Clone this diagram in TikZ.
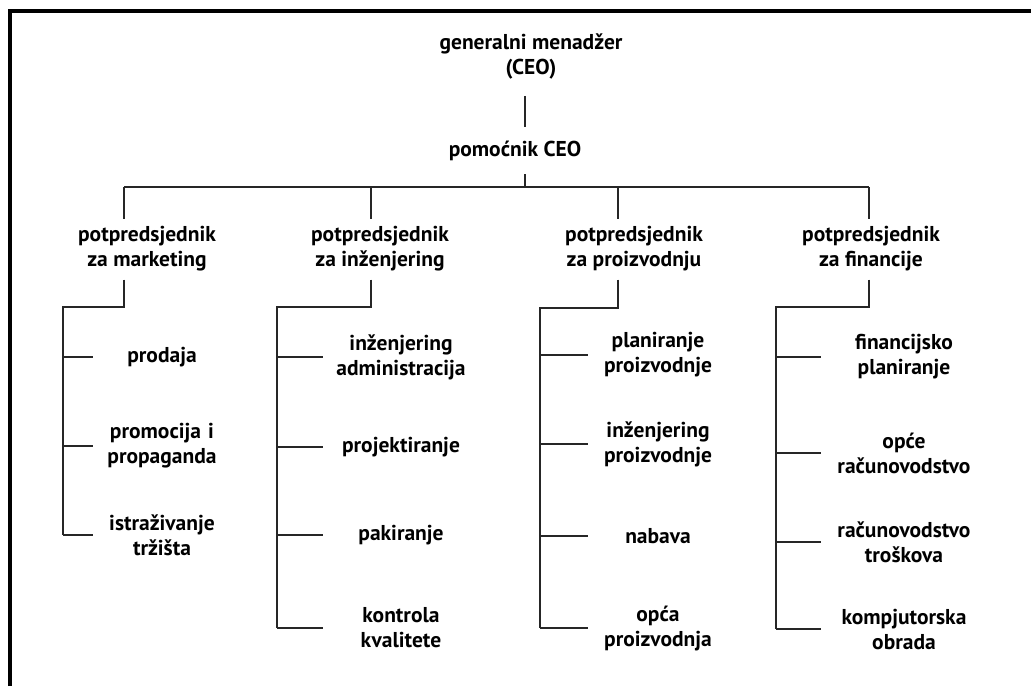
\documentclass[tikz,border=0pt]{standalone}
\usepackage{fontspec}
\setmainfont{PT Sans}

\tikzset{
  link/.style={line width=1.3pt, black!85},
  title/.style={font=\bfseries\fontsize{21.5}{25}\selectfont, align=center, inner sep=0pt},
  dept/.style={title, text width=#1}
}

\begin{document}
\begin{tikzpicture}[x=1pt,y=-1pt]
\useasboundingbox (0,0) rectangle (1031,686);
\draw[line width=4pt] (10,686) -- (10,11) -- (1031,11);

% top of the chart
\node[title] (ceo) at (531,56) {generalni menadžer\\(CEO)};
\node[title] (pom) at (515,151) {pomoćnik CEO};
\coordinate (bus) at (525,187);
\draw[link, shorten <=17pt, shorten >=14pt] (ceo.south -| bus) -- (pom.north -| bus);
\draw[link, shorten <=13pt] (pom.south -| bus) -- (bus);

% vice presidents
\node[title] (vp1) at (147,249) {potpredsjednik\\za marketing};
\node[title] (vp2) at (380,249) {potpredsjednik\\za inženjering};
\node[title] (vp3) at (634,249) {potpredsjednik\\za proizvodnju};
\node[title] (vp4) at (871,249) {potpredsjednik\\za financije};
\coordinate (b1) at (124,187);
\coordinate (b2) at (371,187);
\coordinate (b3) at (618,187);
\coordinate (b4) at (869,187);
\draw[link] (b1) -- (b4);
\draw[link, shorten >=7pt] (b1) -- (vp1.north -| b1);
\draw[link, shorten >=7pt] (b2) -- (vp2.north -| b2);
\draw[link, shorten >=7pt] (b3) -- (vp3.north -| b3);
\draw[link, shorten >=7pt] (b4) -- (vp4.north -| b4);

% marketing
\node[dept=138pt] (i11) at (162,357) {prodaja};
\node[dept=138pt] (i12) at (162,446) {promocija i\\propaganda};
\node[dept=138pt] (i13) at (162,535) {istraživanje\\tržišta};
\coordinate (k1) at (63,307);
\draw[link, shorten <=8pt] (vp1.south -| b1) |- (k1) -- (k1 |- i13);
\draw[link] (k1 |- i11) -- (i11.west);
\draw[link] (k1 |- i12) -- (i12.west);
\draw[link] (k1 |- i13) -- (i13.west);

% inzenjering
\node[dept=156pt] (i21) at (401,357) {inženjering\\administracija};
\node[dept=156pt] (i22) at (401,447) {projektiranje};
\node[dept=156pt] (i23) at (401,535) {pakiranje};
\node[dept=156pt] (i24) at (401,628) {kontrola\\kvalitete};
\coordinate (k2) at (277,307);
\draw[link, shorten <=8pt] (vp2.south -| b2) |- (k2) -- (k2 |- i24);
\draw[link] (k2 |- i21) -- (i21.west);
\draw[link] (k2 |- i22) -- (i22.west);
\draw[link] (k2 |- i23) -- (i23.west);
\draw[link] (k2 |- i24) -- (i24.west);

% proizvodnja
\node[dept=140pt] (i31) at (658,355) {planiranje\\proizvodnje};
\node[dept=140pt] (i32) at (658,444) {inženjering\\proizvodnje};
\node[dept=140pt] (i33) at (658,536) {nabava};
\node[dept=140pt] (i34) at (658,628) {opća\\proizvodnja};
\coordinate (k3) at (540,308);
\draw[link, shorten <=8pt] (vp3.south -| b3) |- (k3) -- (k3 |- i34);
\draw[link] (k3 |- i31) -- (i31.west);
\draw[link] (k3 |- i32) -- (i32.west);
\draw[link] (k3 |- i33) -- (i33.west);
\draw[link] (k3 |- i34) -- (i34.west);

% financije
\node[dept=166pt] (i41) at (904,357) {financijsko\\planiranje};
\node[dept=166pt] (i42) at (904,453) {opće\\računovodstvo};
\node[dept=166pt] (i43) at (904,542) {računovodstvo\\troškova};
\node[dept=166pt] (i44) at (904,629) {kompjutorska\\obrada};
\coordinate (k4) at (776,307);
\draw[link, shorten <=8pt] (vp4.south -| b4) |- (k4) -- (k4 |- i44);
\draw[link] (k4 |- i41) -- (i41.west);
\draw[link] (k4 |- i42) -- (i42.west);
\draw[link] (k4 |- i43) -- (i43.west);
\draw[link] (k4 |- i44) -- (i44.west);
\end{tikzpicture}
\end{document}
